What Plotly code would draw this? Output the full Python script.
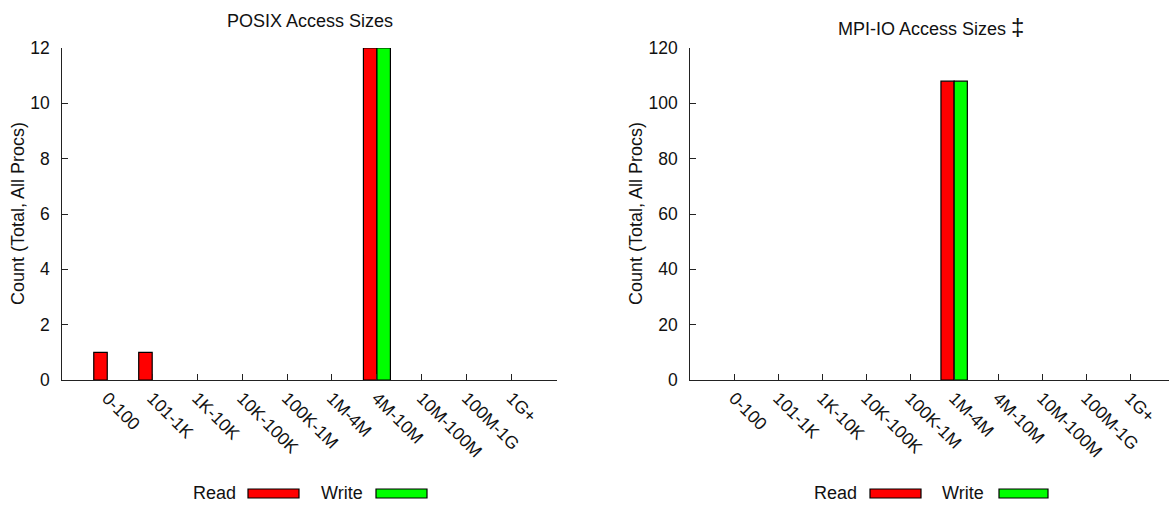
import plotly.graph_objects as go

# Access-size buckets and per-bucket operation counts (total over all procs)
categories = ["0-100", "101-1K", "1K-10K", "10K-100K", "100K-1M",
              "1M-4M", "4M-10M", "10M-100M", "100M-1G", "1G+"]
posix_read = [1, 1, 0, 0, 0, 0, 12, 0, 0, 0]
posix_write = [0, 0, 0, 0, 0, 0, 12, 0, 0, 0]
mpiio_read = [0, 0, 0, 0, 0, 108, 0, 0, 0, 0]
mpiio_write = [0, 0, 0, 0, 0, 108, 0, 0, 0, 0]

W, H = 1169, 505
FONT = "Liberation Sans, Arial, Helvetica, sans-serif"
RED = "#ff0000"
GREEN = "#00ff00"
AXIS = "#222222"
TXT = "#111111"


def px(x):
    return x / W


def py(y):
    return 1 - y / H


def nonzero(values):
    # empty buckets get no bar at all (avoids flat outlines on the axis)
    return [v if v else None for v in values]


xs = list(range(len(categories)))

fig = go.Figure()

for xa, ya, rd, wr in [("x", "y", posix_read, posix_write),
                       ("x2", "y2", mpiio_read, mpiio_write)]:
    fig.add_trace(go.Bar(x=xs, y=nonzero(rd), xaxis=xa, yaxis=ya, offset=-0.3, width=0.3,
                         marker=dict(color=RED, line=dict(color="black", width=1.2)),
                         name="Read", showlegend=False))
    fig.add_trace(go.Bar(x=xs, y=nonzero(wr), xaxis=xa, yaxis=ya, offset=0.0, width=0.3,
                         marker=dict(color=GREEN, line=dict(color="black", width=1.2)),
                         name="Write", showlegend=False))

common_x = dict(tickmode="array", tickvals=xs, ticktext=categories, tickangle=45,
                ticks="inside", ticklen=6, tickcolor=AXIS, showline=True,
                linecolor=AXIS, linewidth=1.2, showgrid=False, zeroline=False,
                automargin=False,
                tickfont=dict(family=FONT, size=17.5, color=TXT))
common_y = dict(ticks="inside", ticklen=6, tickcolor=AXIS, showline=True,
                linecolor=AXIS, linewidth=1.2, showgrid=False, zeroline=False,
                automargin=False, ticklabelstandoff=8,
                tickfont=dict(family=FONT, size=17.5, color=TXT))

ydom = [py(380), py(48)]

fig.update_layout(
    width=W, height=H,
    margin=dict(l=0, r=0, t=0, b=0, pad=0),
    paper_bgcolor="white", plot_bgcolor="white",
    barmode="overlay",
    showlegend=False,
    xaxis=dict(domain=[px(62.3), px(556.7)], range=[-1, 10], anchor="y", **common_x),
    yaxis=dict(domain=ydom, range=[0, 12], dtick=2, anchor="x", **common_y),
    xaxis2=dict(domain=[px(690.3), 1.0], range=[-1, 9.886], anchor="y2", **common_x),
    yaxis2=dict(domain=ydom, range=[0, 120], dtick=20, anchor="x2", **common_y),
)

annotations = [
    dict(text="POSIX Access Sizes", x=px(309.5), y=py(21), xref="paper", yref="paper",
         xanchor="center", yanchor="middle", showarrow=False,
         font=dict(family=FONT, size=18, color=TXT)),
    dict(text="MPI-IO Access Sizes <span style='font-size:24px'>‡</span>",
         x=px(931), y=py(26), xref="paper", yref="paper",
         xanchor="center", yanchor="middle", showarrow=False,
         font=dict(family=FONT, size=18, color=TXT)),
    dict(text="Count (Total, All Procs)", x=px(18), y=py(214), xref="paper", yref="paper",
         xanchor="center", yanchor="middle", textangle=-90, showarrow=False,
         font=dict(family=FONT, size=18, color=TXT)),
    dict(text="Count (Total, All Procs)", x=px(636), y=py(214), xref="paper", yref="paper",
         xanchor="center", yanchor="middle", textangle=-90, showarrow=False,
         font=dict(family=FONT, size=18, color=TXT)),
]

# Legend keys: label text followed by a swatch, one row under each panel
shapes = []
legend_rows = [
    (238, (248, 299), 365, (376, 427)),
    (859, (870, 921), 986, (999, 1048)),
]
for read_end, read_box, write_end, write_box in legend_rows:
    annotations.append(dict(text="Read", x=px(read_end), y=py(493), xref="paper", yref="paper",
                            xanchor="right", yanchor="middle", showarrow=False,
                            font=dict(family=FONT, size=18, color=TXT)))
    annotations.append(dict(text="Write", x=px(write_end), y=py(493), xref="paper", yref="paper",
                            xanchor="right", yanchor="middle", showarrow=False,
                            font=dict(family=FONT, size=18, color=TXT)))
    shapes.append(dict(type="rect", xref="paper", yref="paper",
                       x0=px(read_box[0]), x1=px(read_box[1]), y0=py(498), y1=py(489),
                       fillcolor=RED, line=dict(color="black", width=1.2)))
    shapes.append(dict(type="rect", xref="paper", yref="paper",
                       x0=px(write_box[0]), x1=px(write_box[1]), y0=py(498), y1=py(489),
                       fillcolor=GREEN, line=dict(color="black", width=1.2)))

fig.update_layout(annotations=annotations, shapes=shapes)

fig.write_html("out.html")
